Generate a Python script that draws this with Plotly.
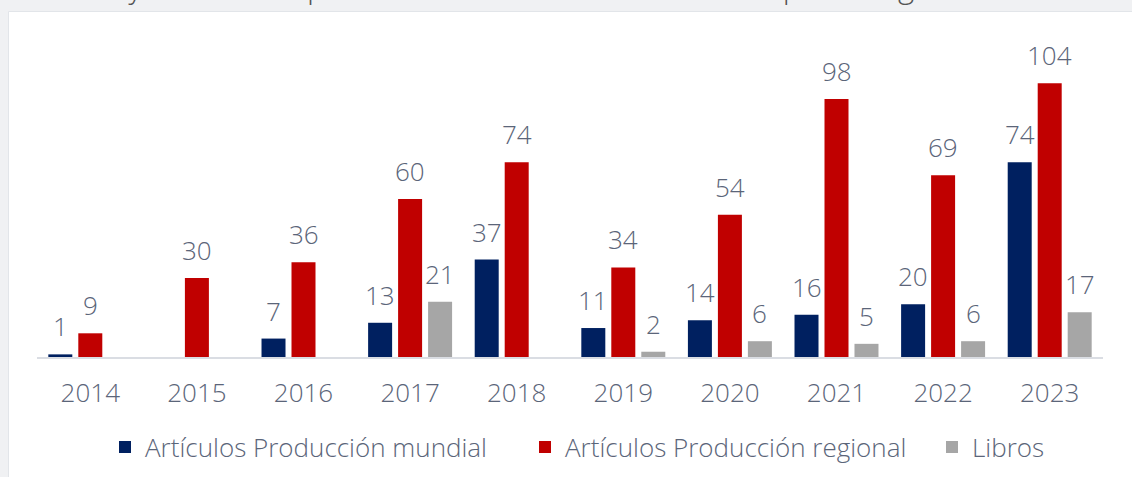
import plotly.graph_objects as go

years = ["2014", "2015", "2016", "2017", "2018", "2019", "2020", "2021", "2022", "2023"]
mundial = [1, None, 7, 13, 37, 11, 14, 16, 20, 74]
regional = [9, 30, 36, 60, 74, 34, 54, 98, 69, 104]
libros = [None, None, None, 21, None, 2, 6, 5, 6, 17]

series_names = ["Artículos Producción mundial", "Artículos Producción regional", "Libros"]
series_values = [mundial, regional, libros]
series_colors = ["#002060", "#C00000", "#A6A6A6"]

header_text = "contribuyeron con la publicación de 454 artículos de impacto regional."

W, H = 1132, 477
ML, MR, MT, MB = 37, 29, 41, 120
YMAX = 120
BARGAP = 0.156
BARGROUPGAP = 0.2

FONT = "Open Sans, Lato, sans-serif"
TXT = "#5b6579"

legend_ids = ["legend", "legend2", "legend3"]
legend_left_px = [119, 539, 946]

fig = go.Figure()
for name, vals, col, lg in zip(series_names, series_values, series_colors, legend_ids):
    fig.add_trace(go.Bar(
        x=years, y=vals, name=name, legend=lg,
        marker=dict(color=col, line=dict(width=0)),
        hoverinfo="skip",
    ))

plot_w = W - ML - MR
plot_h = H - MT - MB
slot = plot_w / len(years) * (1 - BARGAP) / len(series_values)

annotations = []
for i, vals in enumerate(series_values):
    shift = (i - (len(series_values) - 1) / 2) * slot
    for k, v in enumerate(vals):
        if v is None:
            continue
        annotations.append(dict(
            x=k, y=v, xref="x", yref="y", text=str(v), showarrow=False,
            xshift=shift, yshift=28, yanchor="middle", xanchor="center",
            font=dict(family=FONT, size=26, color=TXT, weight=300),
        ))

# cut-off header text from the page above the chart
annotations.append(dict(
    x=(9 - ML) / plot_w, y=1 + (MT + 14) / plot_h, xref="paper", yref="paper",
    text=header_text, showarrow=False, xanchor="left", yanchor="middle",
    font=dict(family=FONT, size=31, color="#555555", weight=300),
))

shapes = [dict(
    type="rect", xref="paper", yref="paper", layer="below",
    x0=(8.5 - ML) / plot_w, x1=(W + 5 - ML) / plot_w,
    y0=-(MB + 5) / plot_h, y1=1 + (MT - 11.5) / plot_h,
    fillcolor="#FFFFFF", line=dict(color="#E2E5E9", width=1),
)]

legend_style = dict(
    orientation="h", xanchor="left", y=-90 / plot_h, yanchor="middle",
    font=dict(family=FONT, size=26, color=TXT, weight=300),
    bgcolor="rgba(0,0,0,0)", itemwidth=30,
)
legends = {}
for lg, px in zip(legend_ids, legend_left_px):
    legends[lg] = dict(legend_style, x=(px - 14 - ML) / plot_w)

fig.update_layout(
    width=W, height=H,
    margin=dict(l=ML, r=MR, t=MT, b=MB, pad=0, autoexpand=False),
    paper_bgcolor="#F0F1F3", plot_bgcolor="rgba(0,0,0,0)",
    barmode="group", bargap=BARGAP, bargroupgap=BARGROUPGAP,
    font=dict(family=FONT, size=26, color=TXT, weight=300),
    showlegend=True,
    xaxis=dict(
        type="category", range=[-0.5, len(years) - 0.5], automargin=False,
        showline=True, linecolor="#DADDE3", linewidth=2,
        ticks="", showgrid=False, zeroline=False, ticklabelstandoff=12,
        tickfont=dict(family=FONT, size=26, color=TXT, weight=300),
    ),
    yaxis=dict(range=[0, YMAX], visible=False, showgrid=False, zeroline=False, automargin=False),
    annotations=annotations,
    shapes=shapes,
    **legends,
)

fig.write_html(
    "out.html",
    config={"displayModeBar": False, "staticPlot": True},
    post_script="document.body.style.margin='0px';document.body.style.overflow='hidden';document.body.style.background='#F0F1F3';",
)
